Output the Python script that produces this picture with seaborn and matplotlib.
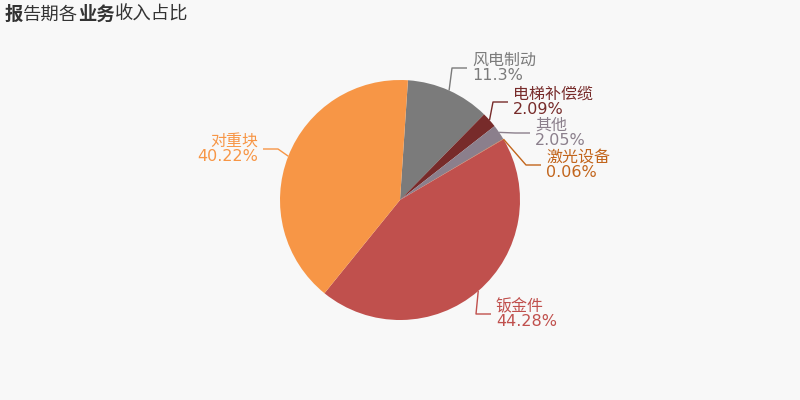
import numpy as np
import matplotlib
matplotlib.use("Agg")
import matplotlib.pyplot as plt
import seaborn as sns

# 报告期各业务收入占比 (%), clockwise order as in the chart
names = ['风电制动', '电梯补偿缆', '其他', '激光设备', '钣金件', '对重块']
shares = [11.3, 2.09, 2.05, 0.06, 44.28, 40.22]
colors = ['#7b7b7b', '#772b2a', '#8b7f8c', '#c2651c', '#c0504d', '#f79646']

# label layout (pixel coords of the text anchor)
label_pos = [(472, 68), (513, 102), (535, 133), (546, 165), (496, 314), (258, 149)]

title_parts = [('报', 'bold'), ('告期各', 'normal'), ('业务', 'bold'), ('收入占比', 'normal')]

sns.set_theme(style='white')
plt.rcParams['font.family'] = ['DejaVu Sans', 'Noto Sans CJK SC']
bg = '#f8f8f8'

fig = plt.figure(figsize=(8, 4), dpi=100, facecolor=bg)
ax = fig.add_axes([0, 0, 1, 1])
ax.set_facecolor(bg)

cx, cy, r = 400, 200, 120
wedges, _ = ax.pie(shares, colors=colors, startangle=86.2, counterclock=False,
                   center=(cx, cy), radius=r, wedgeprops=dict(linewidth=0))
ax.set_xlim(0, 800)
ax.set_ylim(0, 400)
ax.set_aspect('equal')
ax.axis('off')

def py(y):
    return 400 - y

for w, name, val, col, (tx, ty) in zip(wedges, names, shares, colors, label_pos):
    th = np.deg2rad((w.theta1 + w.theta2) / 2)
    ex, ey = cx + r * np.cos(th), cy + r * np.sin(th)
    side = 1 if tx > cx else -1
    hx0 = tx - 20 * side
    hx1 = tx - 5 * side
    ax.plot([ex, hx0, hx1], [ey, py(ty), py(ty)], color=col, lw=1, solid_capstyle='butt')
    ax.text(tx, py(ty), f'{name}\n{val:g}%', color=col, fontsize=11.5,
            ha='left' if side > 0 else 'right', va='center', linespacing=1.0,
            multialignment='left' if side > 0 else 'right')

# title with mixed weights, pieces placed one after another on one baseline
fig.canvas.draw()
renderer = fig.canvas.get_renderer()
x = 5
for txt, wt in title_parts:
    t = fig.text(x / 800, 1 - 20 / 400, txt, fontsize=13.2, fontweight=wt,
                 family=['Noto Sans CJK SC'], color='#333333', ha='left', va='baseline')
    bb = t.get_window_extent(renderer=renderer)
    x += bb.width

fig.savefig('out.png', dpi=100, facecolor=bg)
